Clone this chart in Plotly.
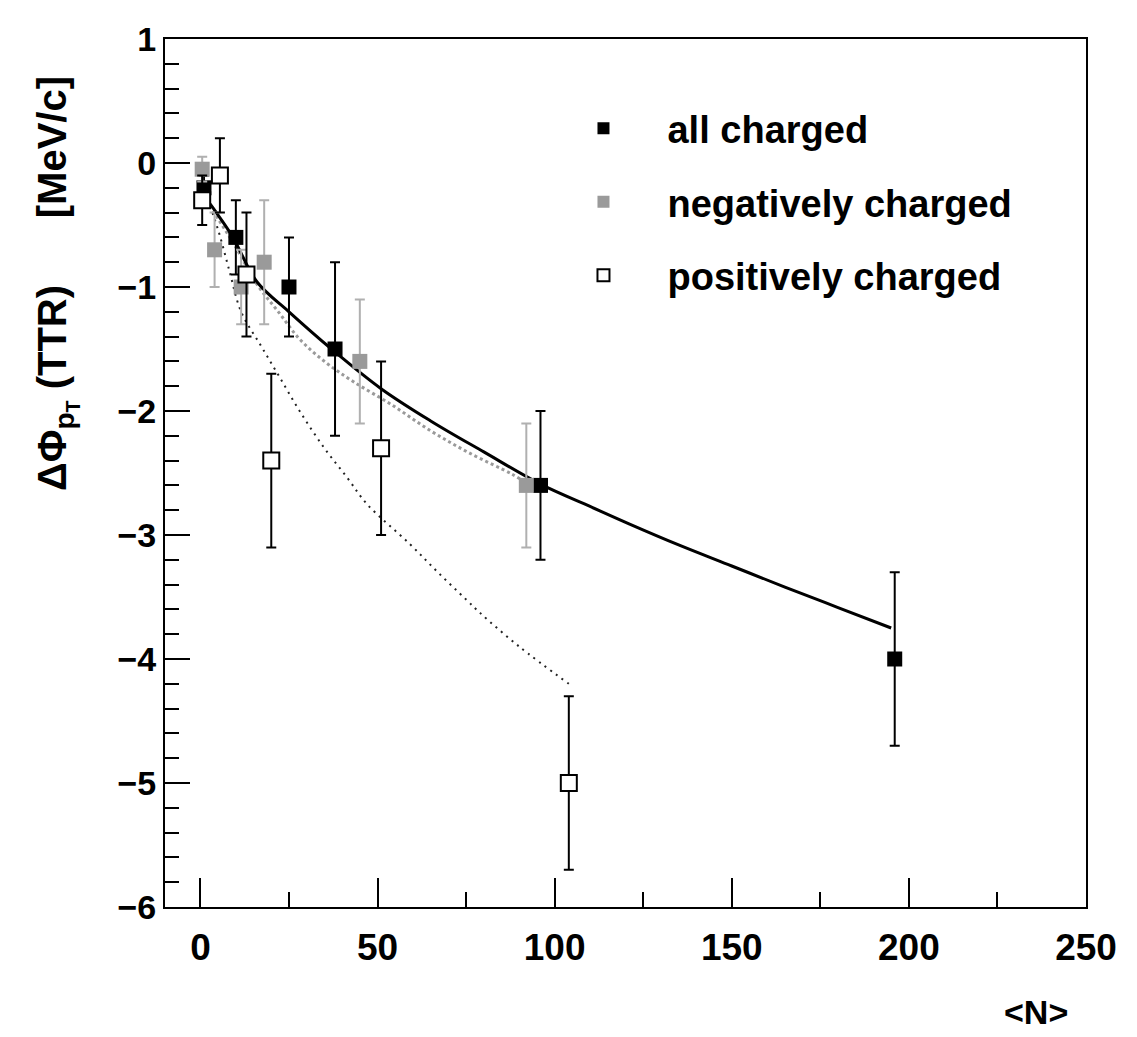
import plotly.graph_objects as go

# ---- data ----
all_x = [1, 10, 25, 38, 96, 196]
all_y = [-0.2, -0.6, -1.0, -1.5, -2.6, -4.0]
all_err = [0.1, 0.3, 0.4, 0.7, 0.6, 0.7]

neg_x = [0.5, 4, 11.5, 18, 45, 92]
neg_y = [-0.05, -0.7, -1.0, -0.8, -1.6, -2.6]
neg_err = [0.1, 0.3, 0.3, 0.5, 0.5, 0.5]

pos_x = [0.5, 5.5, 13, 20, 51, 104]
pos_y = [-0.3, -0.1, -0.9, -2.4, -2.3, -5.0]
pos_err = [0.2, 0.3, 0.5, 0.7, 0.7, 0.7]

fit_all_x = [0, 2, 4, 9, 16, 25, 37, 51, 65, 80, 96, 110, 121, 135, 150, 165, 180, 195]
fit_all_y = [-0.2, -0.3, -0.38, -0.59, -0.96, -1.2, -1.5, -1.82, -2.08, -2.33, -2.59,
             -2.77, -2.91, -3.08, -3.25, -3.42, -3.585, -3.75]

fit_neg_x = [0, 5, 10, 16, 22, 28, 35, 43, 54, 65, 76, 88, 92]
fit_neg_y = [-0.22, -0.45, -0.68, -0.98, -1.2, -1.42, -1.6, -1.76, -1.95, -2.16, -2.34, -2.51, -2.58]

fit_pos_x = [0, 2, 5, 8, 11.5, 17, 22, 28, 35, 41.5, 47, 59, 67, 75, 79, 90, 104]
fit_pos_y = [-0.2, -0.3, -0.54, -0.85, -1.2, -1.47, -1.71, -2.0, -2.3, -2.54, -2.75,
             -3.07, -3.3, -3.52, -3.63, -3.9, -4.2]

legend_names = ["all charged", "negatively charged", "positively charged"]
x_ticks = [0, 50, 100, 150, 200, 250]
y_ticks = [1, 0, -1, -2, -3, -4, -5, -6]

FONT = "Liberation Sans, Arial, Helvetica, sans-serif"
GRAY = "#9a9a9a"

fig = go.Figure()

# fit curves
fig.add_trace(go.Scatter(x=fit_neg_x, y=fit_neg_y, mode="lines", showlegend=False,
                         line=dict(color=GRAY, width=3, dash="3px,3px", shape="spline"),
                         hoverinfo="skip"))
fig.add_trace(go.Scatter(x=fit_pos_x, y=fit_pos_y, mode="lines", showlegend=False,
                         line=dict(color="#222222", width=2, dash="2px,5px", shape="spline"),
                         hoverinfo="skip"))
fig.add_trace(go.Scatter(x=fit_all_x, y=fit_all_y, mode="lines", showlegend=False,
                         line=dict(color="black", width=3, shape="spline"), hoverinfo="skip"))

# data points
fig.add_trace(go.Scatter(
    x=all_x, y=all_y, mode="markers", name=legend_names[0], legendgroup="a",
    marker=dict(symbol="square", size=15, color="black", line=dict(width=0)),
    error_y=dict(type="data", array=all_err, color="black", thickness=2, width=5)))
fig.add_trace(go.Scatter(
    x=neg_x, y=neg_y, mode="markers", name=legend_names[1], legendgroup="b",
    marker=dict(symbol="square", size=15, color=GRAY, line=dict(width=0)),
    error_y=dict(type="data", array=neg_err, color="#b0b0b0", thickness=2, width=5)))
fig.add_trace(go.Scatter(
    x=pos_x, y=pos_y, mode="markers", name=legend_names[2], legendgroup="c",
    marker=dict(symbol="square", size=16, color="white", line=dict(width=2, color="black")),
    error_y=dict(type="data", array=pos_err, color="black", thickness=2, width=5)))

fig.update_layout(
    width=1129, height=1029,
    margin=dict(l=157, r=51, t=23, b=130),
    paper_bgcolor="white", plot_bgcolor="white",
    font=dict(family=FONT, color="black"),
    legend=dict(x=0.4066, y=0.933, xanchor="left", yanchor="top",
                font=dict(family=FONT, size=38, weight="bold"),
                itemwidth=118, tracegroupgap=21, itemsizing="constant",
                bgcolor="rgba(0,0,0,0)", traceorder="grouped"),
    xaxis=dict(range=[-10, 250], showgrid=False, zeroline=False,
               showline=True, linewidth=2, linecolor="black", mirror=True,
               tickvals=x_ticks, ticks="inside", ticklen=29, tickwidth=2, tickcolor="black",
               minor=dict(dtick=25, tick0=0, ticks="inside", ticklen=15, tickwidth=2, tickcolor="black"),
               tickfont=dict(family=FONT, size=37, weight="bold"), ticklabelstandoff=7),
    yaxis=dict(range=[-6, 1], showgrid=False, zeroline=False,
               showline=True, linewidth=2, linecolor="black", mirror=True,
               tickvals=y_ticks, ticks="inside", ticklen=25, tickwidth=2, tickcolor="black",
               minor=dict(dtick=0.2, tick0=0, ticks="inside", ticklen=14, tickwidth=2, tickcolor="black"),
               tickfont=dict(family=FONT, size=34, weight="bold")),
    annotations=[
        dict(text="ΔΦ<sub>p<sub>T</sub></sub> (TTR)\u00a0\u00a0\u00a0\u00a0\u00a0 [MeV/c]",
             textangle=-90, xref="paper", yref="paper", x=-0.118, y=0.718,
             xanchor="center", yanchor="middle", showarrow=False,
             font=dict(family=FONT, size=40, weight="bold", color="black")),
        dict(text="&lt;N&gt;", xref="paper", yref="paper", x=0.946, y=-0.121,
             xanchor="center", yanchor="middle", showarrow=False,
             font=dict(family=FONT, size=34, weight="bold", color="black")),
    ],
)

fig.write_html("out.html")
